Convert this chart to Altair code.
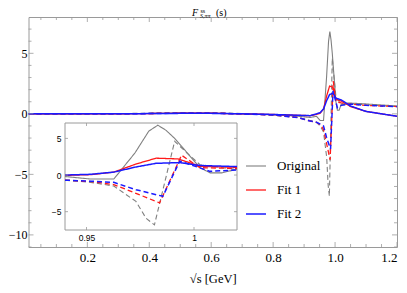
import altair as alt
import pandas as pd

# ---------------- data ----------------
series_names = ["Original", "Fit 1", "Fit 2"]
series_colors = ["#808080", "#ff1a1a", "#1a1aff"]

orig_re_x = [0.01, 0.2, 0.4, 0.5, 0.6, 0.7, 0.8, 0.88, 0.92, 0.94, 0.952, 0.9627, 0.9725, 0.979, 0.9832, 0.987, 0.991, 0.9975, 1.0028, 1.0075, 1.013, 1.02, 1.04, 1.08, 1.14, 1.2]
orig_re_y = [0.0, 0.0, 0.03, 0.08, 0.06, 0.0, -0.08, -0.2, -0.3, -0.2, -0.55, -0.55, 3.0, 6.0, 6.8, 6.1, 5.0, 2.8, 1.0, 0.3, 0.3, 0.8, 0.9, 0.85, 0.75, 0.65]

orig_im_x = [0.01, 0.3, 0.5, 0.6, 0.7, 0.8, 0.88, 0.92, 0.94, 0.952, 0.9627, 0.973, 0.9777, 0.9816, 0.991, 0.9975, 1.0028, 1.02, 1.05, 1.1, 1.2]
orig_im_y = [0.0, 0.02, 0.1, 0.1, 0.03, -0.1, -0.3, -0.55, -0.7, -1.0, -1.5, -3.6, -5.9, -6.8, 4.6, 2.8, 1.4, 0.75, 0.85, 0.75, 0.6]

fit1_re_x = [0.01, 0.3, 0.5, 0.6, 0.7, 0.8, 0.88, 0.92, 0.94, 0.952, 0.9627, 0.973, 0.9824, 0.9926, 1.0028, 1.02, 1.05, 1.1, 1.2]
fit1_re_y = [0.0, 0.0, 0.05, 0.05, 0.0, -0.05, -0.12, -0.15, -0.05, 0.05, 0.4, 1.5, 2.3, 2.2, 1.2, 1.05, 0.6, 0.2, -0.2]

fit1_im_x = [0.01, 0.3, 0.5, 0.6, 0.7, 0.8, 0.88, 0.92, 0.94, 0.9525, 0.9627, 0.973, 0.984, 0.9942, 1.0028, 1.02, 1.05, 1.1, 1.2]
fit1_im_y = [0.0, 0.0, 0.05, 0.05, 0.0, -0.1, -0.3, -0.6, -0.7, -0.9, -1.3, -2.5, -3.8, 2.7, 1.0, 0.9, 0.8, 0.7, 0.6]

fit2_re_x = [0.01, 0.3, 0.5, 0.6, 0.7, 0.8, 0.88, 0.92, 0.94, 0.952, 0.9627, 0.973, 0.9824, 0.9934, 1.0028, 1.02, 1.05, 1.1, 1.2]
fit2_re_y = [0.0, 0.0, 0.04, 0.04, 0.0, -0.05, -0.12, -0.15, 0.0, 0.1, 0.4, 1.1, 1.6, 1.7, 1.3, 1.15, 0.65, 0.2, -0.2]

fit2_im_x = [0.01, 0.3, 0.5, 0.6, 0.7, 0.8, 0.88, 0.92, 0.94, 0.9525, 0.9627, 0.973, 0.9855, 0.9934, 1.0075, 1.02, 1.05, 1.1, 1.2]
fit2_im_y = [0.0, 0.0, 0.05, 0.05, 0.0, -0.1, -0.3, -0.6, -0.7, -0.85, -1.0, -2.0, -2.9, 1.9, 0.5, 0.7, 0.8, 0.7, 0.6]

x_major = [0.2, 0.4, 0.6, 0.8, 1.0, 1.2]
x_minor = [0.05, 0.1, 0.15, 0.25, 0.3, 0.35, 0.45, 0.5, 0.55, 0.65, 0.7, 0.75, 0.85, 0.9, 0.95, 1.05, 1.1, 1.15]
y_major = [-10, -5, 0, 5]
y_minor = [-11, -9, -8, -7, -6, -4, -3, -2, -1, 1, 2, 3, 4, 6, 7]
inset_x_ticks = [0.95, 1.0]
inset_y_ticks = [-5, 0, 5]

rows = []
for name, part, xs_, ys_ in [
    ("Original", "re", orig_re_x, orig_re_y),
    ("Original", "im", orig_im_x, orig_im_y),
    ("Fit 1", "re", fit1_re_x, fit1_re_y),
    ("Fit 1", "im", fit1_im_x, fit1_im_y),
    ("Fit 2", "re", fit2_re_x, fit2_re_y),
    ("Fit 2", "im", fit2_im_x, fit2_im_y),
]:
    for a, b in zip(xs_, ys_):
        rows.append({"x": a, "y": b, "series": name, "part": part})
df = pd.DataFrame(rows)

# ---------------- layout ----------------
PADL = 20.5
W, H = 368.5, 230
SERIF = "Liberation Serif"
SANS = "Liberation Sans"
TICK = "#9a9a9a"
IL, IR, IT, IB = 65 - 8 - PADL, 237 - 8 - PADL, 106, 213  # inset frame in plot coords

xs = alt.Scale(domain=[0.01, 1.2], nice=False, zero=False)
ys = alt.Scale(domain=[-11, 8], nice=False, zero=False)
ixs = alt.Scale(domain=[0.94, 1.02], range=[IL, IR], nice=False, zero=False)
iys = alt.Scale(domain=[-7.5, 7.1], range=[IB, IT], nice=False, zero=False)

main_x_axis = alt.Axis(
    values=x_major, format=".1f", ticks=False, domain=False, grid=False, labelFlush=True,
    labelFont=SERIF, labelFontSize=13, labelPadding=4, labelColor="black",
    title="√s  [GeV]", titleFont=SERIF, titleFontSize=12.5, titleFontWeight="normal",
    titlePadding=8, titleColor="black")
main_y_axis = alt.Axis(
    values=y_major, format="d", ticks=False, domain=False, grid=False, labelFlush=False,
    labelFont=SERIF, labelFontSize=12, labelPadding=1.5, labelColor="black", title=None)
inset_x_axis = alt.Axis(
    orient="bottom", offset=-(H - IB), values=inset_x_ticks, format="~g", ticks=False, domain=False,
    grid=False, labelFlush=False, labelFont=SANS, labelFontSize=8.5, labelPadding=3,
    labelColor="black", title=None)
inset_y_axis = alt.Axis(
    orient="left", offset=-IL, values=inset_y_ticks, format="d", ticks=False, domain=False,
    grid=False, labelFlush=False, labelFont=SANS, labelFontSize=8.5, labelPadding=4,
    labelColor="black", title=None)

color_scale = alt.Scale(domain=series_names, range=series_colors)
dash = alt.StrokeDash("part:N", scale=alt.Scale(domain=["re", "im"], range=[[1, 0], [5, 3]]), legend=None)
swidth = alt.StrokeWidth("series:N", scale=alt.Scale(domain=series_names, range=[1.1, 1.5, 1.5]), legend=None)

main_lines = alt.Chart(df).mark_line(clip=True).encode(
    x=alt.X("x:Q", scale=xs, axis=main_x_axis),
    y=alt.Y("y:Q", scale=ys, axis=main_y_axis),
    color=alt.Color("series:N", scale=color_scale, legend=alt.Legend(
        orient="none", legendX=245 - 8 - PADL, legendY=138, title=None, symbolType="stroke",
        symbolSize=400, symbolStrokeWidth=1.5, labelFont=SERIF, labelFontSize=13,
        labelOffset=10, rowPadding=6, labelColor="black")),
    strokeDash=dash,
    strokeWidth=swidth,
)


def xtick_layers(vals, length, scale, axis, ybot, ytop=None):
    d = pd.DataFrame({"x": vals})
    base = alt.Chart(d).mark_rule(color=TICK, strokeWidth=0.8)
    out = [base.encode(x=alt.X("x:Q", scale=scale, axis=axis), y=alt.value(ybot), y2=alt.value(ybot - length))]
    if ytop is not None:
        out.append(base.encode(x=alt.X("x:Q", scale=scale, axis=axis), y=alt.value(ytop), y2=alt.value(ytop + length)))
    return out


def ytick_layers(vals, length, scale, axis, xleft, xright=None):
    d = pd.DataFrame({"y": vals})
    base = alt.Chart(d).mark_rule(color=TICK, strokeWidth=0.8)
    out = [base.encode(y=alt.Y("y:Q", scale=scale, axis=axis), x=alt.value(xleft), x2=alt.value(xleft + length))]
    if xright is not None:
        out.append(base.encode(y=alt.Y("y:Q", scale=scale, axis=axis), x=alt.value(xright), x2=alt.value(xright - length)))
    return out


ticks = (xtick_layers(x_major, 5, xs, main_x_axis, H, 0) + xtick_layers(x_minor, 3, xs, main_x_axis, H, 0)
         + ytick_layers(y_major, 5, ys, main_y_axis, 0, W) + ytick_layers(y_minor, 3, ys, main_y_axis, 0, W))

# title F^{ss}_{S,pi pi}(s)
tdf = pd.DataFrame({"a": [0]})
TX = 192 - 8 - PADL
title_parts = [
    alt.Chart(tdf).mark_text(text="F", font=SERIF, fontSize=10, fontStyle="italic", align="left", baseline="alphabetic").encode(x=alt.value(TX), y=alt.value(-1)),
    alt.Chart(tdf).mark_text(text="ss", font=SERIF, fontSize=6, align="left", baseline="alphabetic").encode(x=alt.value(TX + 8.5), y=alt.value(-4.5)),
    alt.Chart(tdf).mark_text(text="S,ππ", font=SERIF, fontSize=6, fontStyle="italic", align="left", baseline="alphabetic").encode(x=alt.value(TX + 8), y=alt.value(0.5)),
    alt.Chart(tdf).mark_text(text="(s)", font=SERIF, fontSize=10, align="left", baseline="alphabetic").encode(x=alt.value(TX + 24), y=alt.value(-1)),
]

main = alt.layer(main_lines, *ticks, *title_parts)

# ---------------- inset ----------------
inset_frame = alt.Chart(tdf).mark_rect(fill="white", stroke="#9a9a9a", strokeWidth=1).encode(
    x=alt.X(datum=0.94, type="quantitative", scale=ixs, axis=inset_x_axis),
    x2=alt.X2(datum=1.02),
    y=alt.Y(datum=-7.5, type="quantitative", scale=iys, axis=inset_y_axis),
    y2=alt.Y2(datum=7.1),
)

inset_lines = alt.Chart(df).transform_filter("datum.x >= 0.94 && datum.x <= 1.02").mark_line().encode(
    x=alt.X("x:Q", scale=ixs, axis=inset_x_axis),
    y=alt.Y("y:Q", scale=iys, axis=inset_y_axis),
    color=alt.Color("series:N", scale=color_scale, legend=None),
    strokeDash=dash,
    strokeWidth=swidth,
)

inset_ticks = (xtick_layers(inset_x_ticks, 3, ixs, inset_x_axis, IB, IT)
               + ytick_layers(inset_y_ticks, 3, iys, inset_y_axis, IL, IR))

inset = alt.layer(inset_frame, inset_lines, *inset_ticks)

chart = alt.layer(main, inset).resolve_scale(x="independent", y="independent").properties(
    width=W, height=H, autosize=alt.AutoSizeParams(type="none"),
    padding={"left": PADL, "top": 9, "right": 2, "bottom": 38},
).configure_view(stroke="#9a9a9a", strokeWidth=1)

chart.save("out.html", embed_options={"renderer": "svg", "actions": False})
